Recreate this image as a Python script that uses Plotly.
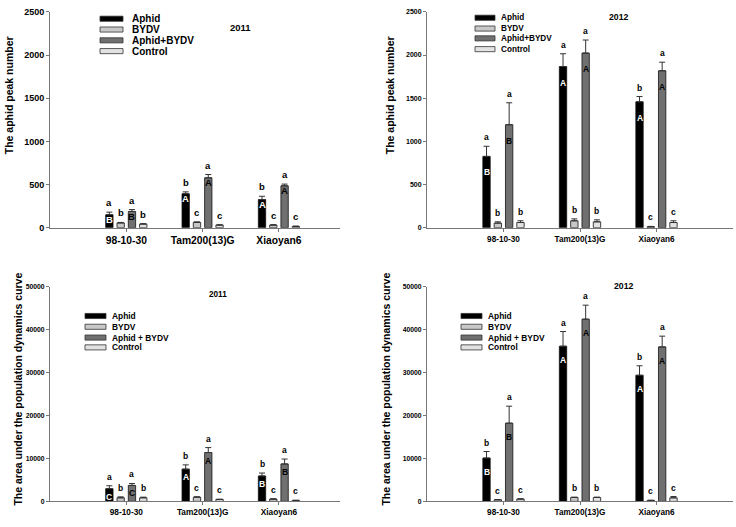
import plotly.graph_objects as go

W, H = 736, 527

categories = ["98-10-30", "Tam200(13)G", "Xiaoyan6"]
series_top = ["Aphid", "BYDV", "Aphid+BYDV", "Control"]
series_bottom = ["Aphid", "BYDV", "Aphid + BYDV", "Control"]
series_colors = ["#000000", "#c8c8c8", "#707070", "#e2e2e2"]
capital_colors = ["white", None, "black", None]

# ---- Panel 1: aphid peak number, 2011
peak11_aphid = [150, 393, 326]
peak11_aphid_err = [30, 22, 38]
peak11_bydv = [55, 62, 30]
peak11_bydv_err = [6, 5, 5]
peak11_ab = [188, 578, 485]
peak11_ab_err = [22, 38, 20]
peak11_ctrl = [42, 30, 15]
peak11_ctrl_err = [5, 4, 3]
peak11_lower = [["a", "b", "b"], ["b", "c", "c"], ["a", "a", "a"], ["b", "c", "c"]]
peak11_upper = [["B", "A", "A"], None, ["B", "A", "A"], None]

# ---- Panel 2: aphid peak number, 2012
peak12_aphid = [826, 1867, 1458]
peak12_aphid_err = [117, 148, 61]
peak12_bydv = [53, 80, 12]
peak12_bydv_err = [15, 22, 3]
peak12_ab = [1193, 2023, 1818]
peak12_ab_err = [254, 151, 99]
peak12_ctrl = [60, 68, 60]
peak12_ctrl_err = [20, 23, 20]
peak12_lower = [["a", "a", "b"], ["b", "b", "c"], ["a", "a", "a"], ["b", "b", "c"]]
peak12_upper = [["B", "A", "A"], None, ["B", "A", "A"], None]

# ---- Panel 3: area under population dynamics curve, 2011
area11_aphid = [2960, 7510, 5920]
area11_aphid_err = [680, 990, 680]
area11_bydv = [840, 990, 530]
area11_bydv_err = [220, 80, 80]
area11_ab = [3720, 11380, 8720]
area11_ab_err = [450, 1140, 1140]
area11_ctrl = [840, 455, 230]
area11_ctrl_err = [150, 50, 30]
area11_lower = [["a", "b", "b"], ["b", "c", "c"], ["a", "a", "a"], ["b", "c", "c"]]
area11_upper = [["C", "A", "B"], None, ["C", "A", "B"], None]

# ---- Panel 4: area under population dynamics curve, 2012
area12_aphid = [10090, 36120, 29360]
area12_aphid_err = [1520, 3410, 2200]
area12_bydv = [380, 910, 230]
area12_bydv_err = [50, 80, 30]
area12_ab = [18210, 42410, 35960]
area12_ab_err = [3950, 3260, 2500]
area12_ctrl = [530, 910, 830]
area12_ctrl_err = [80, 80, 300]
area12_lower = [["b", "a", "b"], ["c", "b", "c"], ["a", "a", "a"], ["c", "b", "c"]]
area12_upper = [["B", "A", "A"], None, ["B", "A", "A"], None]

y_title_peak = "The aphid peak number"
y_title_area = "The area under the population dynamics curve"

FONT = "Liberation Sans, Arial, sans-serif"

panels = [
    dict(ax="", year="2011", names=series_top, ytitle=y_title_peak,
         vals=[peak11_aphid, peak11_bydv, peak11_ab, peak11_ctrl],
         errs=[peak11_aphid_err, peak11_bydv_err, peak11_ab_err, peak11_ctrl_err],
         lower=peak11_lower, upper=peak11_upper,
         dom_x=(50, 340), dom_y=(7, 227), xrange=(-1, 2.8), yrange=(0, 2500), dtick=500,
         tick_fs=9, cat_fs=10.3, letter_fs=9.5, cap_shift=-5,
         title_pos=(9, 92), title_fs=10.5, year_pos=(240, 23), year_fs=9.5,
         leg_sw=(100, 123), leg_rows=(14, 25, 36, 47), leg_text_x=130, leg_fs=10),
    dict(ax="2", year="2012", names=series_top, ytitle=y_title_peak,
         vals=[peak12_aphid, peak12_bydv, peak12_ab, peak12_ctrl],
         errs=[peak12_aphid_err, peak12_bydv_err, peak12_ab_err, peak12_ctrl_err],
         lower=peak12_lower, upper=peak12_upper,
         dom_x=(427, 733), dom_y=(7, 227), xrange=(-1, 3.0), yrange=(0, 2500), dtick=500,
         tick_fs=7, cat_fs=8.2, letter_fs=8.5, cap_shift=-16,
         title_pos=(390, 92), title_fs=10.5, year_pos=(618, 12), year_fs=8.7,
         leg_sw=(475, 495), leg_rows=(13, 24, 34, 45), leg_text_x=499, leg_fs=8.2),
    dict(ax="3", year="2011", names=series_bottom, ytitle=y_title_area,
         vals=[area11_aphid, area11_bydv, area11_ab, area11_ctrl],
         errs=[area11_aphid_err, area11_bydv_err, area11_ab_err, area11_ctrl_err],
         lower=area11_lower, upper=area11_upper,
         dom_x=(50, 340), dom_y=(287, 506), xrange=(-1, 2.8), yrange=(0, 50000), dtick=10000,
         tick_fs=6.8, cat_fs=8.3, letter_fs=8.5, cap_shift=-8,
         title_pos=(18, 392), title_fs=10.5, year_pos=(218, 295), year_fs=8.2,
         leg_sw=(85, 106), leg_rows=(317, 328, 339, 349), leg_text_x=110, leg_fs=8.4),
    dict(ax="4", year="2012", names=series_bottom, ytitle=y_title_area,
         vals=[area12_aphid, area12_bydv, area12_ab, area12_ctrl],
         errs=[area12_aphid_err, area12_bydv_err, area12_ab_err, area12_ctrl_err],
         lower=area12_lower, upper=area12_upper,
         dom_x=(427, 733), dom_y=(287, 506), xrange=(-1, 3.0), yrange=(0, 50000), dtick=10000,
         tick_fs=6.8, cat_fs=8.2, letter_fs=8.5, cap_shift=-14,
         title_pos=(386, 392), title_fs=10.5, year_pos=(623, 286), year_fs=8.7,
         leg_sw=(461, 482), leg_rows=(317, 328, 339, 349), leg_text_x=486, leg_fs=8.4),
]

SLOT = 0.148  # width of each bar slot within a group (category units)
BARGAP = 1 - 4 * SLOT


def px_x(p):
    return p / W


def px_y(p):
    return 1 - p / H


def f(size, color="black"):
    return dict(family=FONT, size=size, color=color, weight="bold")


fig = go.Figure()
annotations = []
shapes = []
layout = {}

for p in panels:
    xa = "x" + p["ax"]
    ya = "y" + p["ax"]
    for k in range(4):
        fig.add_trace(go.Bar(
            x=categories, y=p["vals"][k], name=p["names"][k],
            xaxis=xa, yaxis=ya, showlegend=False,
            marker=dict(color=series_colors[k], line=dict(color="#111111", width=0.8)),
            error_y=dict(type="data", array=p["errs"][k], arrayminus=[0] * len(categories),
                         symmetric=False, color="#333333", thickness=1, width=3),
        ))
        offset = (k - 1.5) * SLOT
        for i in range(len(categories)):
            top = p["vals"][k][i] + p["errs"][k][i]
            annotations.append(dict(
                x=i + offset, y=top, xref=xa, yref=ya, text=p["lower"][k][i],
                showarrow=False, yanchor="bottom", yshift=2, font=f(p["letter_fs"])))
            if p["upper"][k] is not None:
                annotations.append(dict(
                    x=i + offset, y=p["vals"][k][i], xref=xa, yref=ya,
                    text=p["upper"][k][i], showarrow=False, yanchor="middle",
                    yshift=p["cap_shift"], font=f(p["letter_fs"], capital_colors[k])))

    axis_common = dict(showline=True, linecolor="#777777", linewidth=1, showgrid=False,
                       zeroline=False, ticks="outside", ticklen=3, tickcolor="#777777",
                       tickwidth=1)
    layout["xaxis" + p["ax"]] = dict(
        axis_common, type="category", range=list(p["xrange"]),
        domain=[px_x(p["dom_x"][0]), px_x(p["dom_x"][1])],
        anchor=ya, tickfont=f(p["cat_fs"]))
    layout["yaxis" + p["ax"]] = dict(
        axis_common, range=list(p["yrange"]), dtick=p["dtick"], tick0=0, tickformat="d",
        domain=[px_y(p["dom_y"][1]), px_y(p["dom_y"][0])],
        anchor=xa, tickfont=f(p["tick_fs"]))

    # y-axis title
    annotations.append(dict(
        x=px_x(p["title_pos"][0]), y=px_y(p["title_pos"][1]), xref="paper", yref="paper",
        text=p["ytitle"], textangle=-90, showarrow=False, font=f(p["title_fs"]),
        xanchor="center", yanchor="middle"))
    # year label
    annotations.append(dict(
        x=px_x(p["year_pos"][0]), y=px_y(p["year_pos"][1]), xref="paper", yref="paper",
        text=p["year"], showarrow=False, font=f(p["year_fs"]),
        xanchor="center", yanchor="middle"))
    # custom legend
    for k, row in enumerate(p["leg_rows"]):
        shapes.append(dict(
            type="rect", xref="paper", yref="paper",
            x0=px_x(p["leg_sw"][0]), x1=px_x(p["leg_sw"][1]),
            y0=px_y(row + 2.6), y1=px_y(row - 2.6),
            fillcolor=series_colors[k], line=dict(color="#333333", width=0.8)))
        annotations.append(dict(
            x=px_x(p["leg_text_x"]), y=px_y(row), xref="paper", yref="paper",
            text=p["names"][k], showarrow=False, font=f(p["leg_fs"]),
            xanchor="left", yanchor="middle"))

fig.update_layout(
    width=W, height=H, margin=dict(l=0, r=0, t=0, b=0),
    paper_bgcolor="white", plot_bgcolor="white",
    barmode="group", bargap=BARGAP, bargroupgap=0.35,
    annotations=annotations, shapes=shapes, **layout)

fig.write_html(
    "out.html",
    config={"displayModeBar": False},
    post_script="document.body.style.margin='0';document.body.style.overflow='hidden';",
)
